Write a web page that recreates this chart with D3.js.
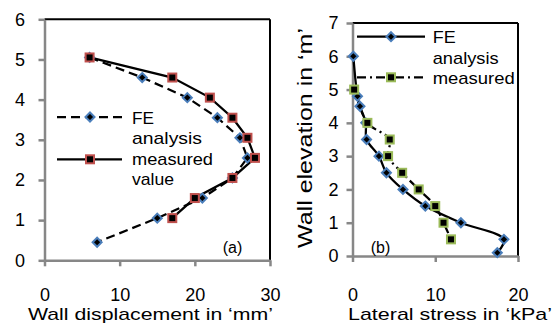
<!DOCTYPE html>
<html>
<head>
<meta charset="utf-8">
<script src="https://cdn.jsdelivr.net/npm/d3@7"></script>
<style>
body { margin: 0; background: #fff; }
text { font-family: "Liberation Sans", Arial, sans-serif; fill: #000; }
</style>
</head>
<body>
<div id="chart"></div>
<script>
// panel (a) - wall displacement vs elevation
var dispFE_x = [6, 13, 19, 23, 26, 27, 25, 21, 15, 7];
var dispFE_y = [5.05, 4.55, 4.05, 3.55, 3.05, 2.55, 2.05, 1.55, 1.05, 0.45];
var dispMeas_x = [6, 17, 22, 25, 27, 28, 25, 20, 17];
var dispMeas_y = [5.05, 4.55, 4.05, 3.55, 3.05, 2.55, 2.05, 1.55, 1.05];
var dispXTicks = [0, 10, 20, 30];
var dispYTicks = [0, 1, 2, 3, 4, 5, 6];

// panel (b) - lateral stress vs elevation
var stressFE_x = [0.1, 0.6, 0.9, 1.6, 1.7, 3.2, 4.1, 6.1, 8.8, 13.1, 18.3, 17.5];
var stressFE_y = [6.0, 4.8, 4.5, 4.0, 3.5, 3.0, 2.5, 2.0, 1.5, 1.0, 0.5, 0.1];
var stressMeas_x = [0.2, 1.8, 4.5, 4.3, 6.0, 8.0, 10.0, 11.0, 11.9];
var stressMeas_y = [5.0, 4.0, 3.5, 3.0, 2.5, 2.0, 1.5, 1.0, 0.5];
var stressXTicks = [0, 10, 20];
var stressYTicks = [0, 1, 2, 3, 4, 5, 6, 7];

var width = 553, height = 328;
var blue = "#4a7ebb", red = "#c0504d", green = "#9bbb59", axisGray = "#878787";

var svg = d3.select("#chart").append("svg")
    .attr("width", width)
    .attr("height", height);

function zip(xs, ys) {
  return xs.map(function(x, i) { return {x: x, y: ys[i]}; });
}

function diamond(g, pts, x, y) {
  g.selectAll(null).data(pts).enter().append("path")
    .attr("d", function(d) {
      var cx = x(d.x), cy = y(d.y), r = 4.5;
      return "M" + cx + "," + (cy - r) + "L" + (cx + r) + "," + cy + "L" + cx + "," + (cy + r) + "L" + (cx - r) + "," + cy + "Z";
    })
    .attr("fill", "#000")
    .attr("stroke", blue)
    .attr("stroke-width", 2);
}

function square(g, pts, x, y, col) {
  g.selectAll(null).data(pts).enter().append("rect")
    .attr("x", function(d) { return x(d.x) - 4; })
    .attr("y", function(d) { return y(d.y) - 4; })
    .attr("width", 8)
    .attr("height", 8)
    .attr("fill", "#000")
    .attr("stroke", col)
    .attr("stroke-width", 2);
}

//draws axes + frame for one panel
function frame(x, y, xt, yt, yPad, xPad) {
  var g = svg.append("g");
  var x0 = x.range()[0], x1 = x.range()[1], y0 = y.range()[0], y1 = y.range()[1];
  g.append("line").attr("x1", x0).attr("x2", x1).attr("y1", y1).attr("y2", y1)
    .attr("stroke", "#000").attr("stroke-width", 2);
  g.append("line").attr("x1", x1).attr("x2", x1).attr("y1", y1).attr("y2", y0)
    .attr("stroke", "#000").attr("stroke-width", 2);

  var ax = g.append("g").attr("transform", "translate(0," + y0 + ")")
    .call(d3.axisBottom(x).tickValues(xt).tickFormat(d3.format("d"))
      .tickSize(6).tickSizeOuter(0).tickPadding(xPad));
  var ay = g.append("g").attr("transform", "translate(" + x0 + ",0)")
    .call(d3.axisLeft(y).tickValues(yt).tickFormat(d3.format("d"))
      .tickSize(6).tickSizeOuter(0).tickPadding(yPad));
  [ax, ay].forEach(function(a) {
    a.select(".domain").attr("stroke", axisGray).attr("stroke-width", 2.5);
    a.selectAll(".tick line").attr("stroke", axisGray).attr("stroke-width", 2.5);
    a.selectAll(".tick text").attr("font-size", 18).attr("font-family", null);
  });
  return g;
}

function legendText(g, x, y, s, len) {
  var t = g.append("text").attr("x", x).attr("y", y).attr("font-size", 17).text(s);
  if (len) t.attr("textLength", len).attr("lengthAdjust", "spacingAndGlyphs");
}

// ---- panel (a)
var xA = d3.scaleLinear().domain([0, 30]).range([44.5, 270]);
var yA = d3.scaleLinear().domain([0, 6]).range([260.3, 19.3]);
frame(xA, yA, dispXTicks, dispYTicks, 13.5, 22);

var lineA = d3.line().x(function(d) { return xA(d.x); }).y(function(d) { return yA(d.y); });
var gA = svg.append("g");
gA.append("path").datum(zip(dispFE_x, dispFE_y)).attr("d", lineA)
  .attr("fill", "none").attr("stroke", "#000").attr("stroke-width", 2.25).attr("stroke-dasharray", "9,5");
gA.append("path").datum(zip(dispMeas_x, dispMeas_y)).attr("d", lineA)
  .attr("fill", "none").attr("stroke", "#000").attr("stroke-width", 2.25);
diamond(gA, zip(dispFE_x, dispFE_y), xA, yA);
square(gA, zip(dispMeas_x, dispMeas_y), xA, yA, red);

// legend (a)
var idA = d3.scaleIdentity();
gA.append("line").attr("x1", 57).attr("x2", 122).attr("y1", 117).attr("y2", 117)
  .attr("stroke", "#000").attr("stroke-width", 2.25).attr("stroke-dasharray", "9,5");
diamond(gA, [{x: 90, y: 117}], idA, idA);
gA.append("line").attr("x1", 57).attr("x2", 122).attr("y1", 159.3).attr("y2", 159.3)
  .attr("stroke", "#000").attr("stroke-width", 2.25);
square(gA, [{x: 90, y: 159.3}], idA, idA, red);
legendText(gA, 132, 123.5, "FE", 22);
legendText(gA, 132, 144, "analysis", 70);
legendText(gA, 132, 164.5, "measured", 81);
legendText(gA, 132, 185, "value", 42);
gA.append("text").attr("x", 232.5).attr("y", 253).attr("font-size", 16)
  .attr("text-anchor", "middle").text("(a)");
gA.append("text").attr("x", 150.5).attr("y", 319.5).attr("font-size", 17)
  .attr("text-anchor", "middle").attr("textLength", 245).attr("lengthAdjust", "spacingAndGlyphs")
  .text("Wall displacement in \u2018mm\u2019");

// ---- panel (b)
var xB = d3.scaleLinear().domain([0, 20]).range([352.5, 518]);
var yB = d3.scaleLinear().domain([0, 7]).range([256, 23]);
frame(xB, yB, stressXTicks, stressYTicks, 8, 26);

var lineB = d3.line().curve(d3.curveCatmullRom.alpha(0.5))
  .x(function(d) { return xB(d.x); }).y(function(d) { return yB(d.y); });
var gB = svg.append("g");
gB.append("path").datum(zip(stressMeas_x, stressMeas_y)).attr("d", lineB)
  .attr("fill", "none").attr("stroke", "#000").attr("stroke-width", 2.25).attr("stroke-dasharray", "9,4,2,4");
gB.append("path").datum(zip(stressFE_x, stressFE_y)).attr("d", lineB)
  .attr("fill", "none").attr("stroke", "#000").attr("stroke-width", 2.25);
diamond(gB, zip(stressFE_x, stressFE_y), xB, yB);
square(gB, zip(stressMeas_x, stressMeas_y), xB, yB, green);

// legend (b)
gB.append("line").attr("x1", 357).attr("x2", 425).attr("y1", 36.7).attr("y2", 36.7)
  .attr("stroke", "#000").attr("stroke-width", 2.25);
diamond(gB, [{x: 391, y: 36.7}], idA, idA);
gB.append("line").attr("x1", 357).attr("x2", 425).attr("y1", 77.3).attr("y2", 77.3)
  .attr("stroke", "#000").attr("stroke-width", 2.25).attr("stroke-dasharray", "9,4,2,4");
square(gB, [{x: 391, y: 77.3}], idA, idA, green);
legendText(gB, 432.7, 43.3, "FE", 23);
legendText(gB, 432.7, 63.5, "analysis", 66);
legendText(gB, 432.7, 83.5, "measured", 82);
gB.append("text").attr("x", 380.5).attr("y", 253).attr("font-size", 16)
  .attr("text-anchor", "middle").text("(b)");
gB.append("text").attr("x", 450).attr("y", 319.5).attr("font-size", 17)
  .attr("text-anchor", "middle").attr("textLength", 204).attr("lengthAdjust", "spacingAndGlyphs")
  .text("Lateral stress in \u2018kPa\u2019");
gB.append("text").attr("transform", "translate(312,138) rotate(-90)").attr("font-size", 20)
  .attr("text-anchor", "middle").attr("textLength", 220).attr("lengthAdjust", "spacingAndGlyphs")
  .text("Wall elevation in \u2018m\u2019");
</script>
</body>
</html>
